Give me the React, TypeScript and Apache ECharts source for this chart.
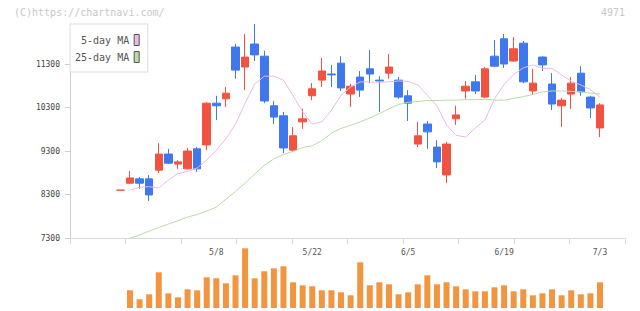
import React, { useEffect, useRef } from 'react';
import * as echarts from 'echarts';

const dates = ['4/19','4/22','4/23','4/24','4/25','4/26','4/30','5/1','5/2','5/7','5/8','5/9','5/10','5/13','5/14','5/15','5/16','5/17','5/20','5/21','5/22','5/23','5/24','5/27','5/28','5/29','5/30','5/31','6/3','6/4','6/5','6/6','6/7','6/10','6/11','6/12','6/13','6/14','6/17','6/18','6/19','6/20','6/21','6/24','6/25','6/26','6/27','6/28','7/1','7/2','7/3'];

const opens = [8400,8560,8660,8660,8860,9230,9000,8890,9350,9440,10400,10500,11690,11230,11760,11480,10340,10110,9320,9970,10570,10930,11070,11320,10610,11000,11190,10930,11090,10930,10570,9460,9920,9390,8750,10040,10680,10890,10540,11480,11880,11370,11780,10680,11460,10840,10340,10610,11090,10540,9830];
const closes = [8400,8680,8560,8290,9230,9020,9050,9300,8890,10400,10340,10630,11160,11460,11510,10450,10080,9370,9650,10040,10730,11140,11050,10750,10790,10700,11070,10910,11230,10540,10400,9650,9740,9050,9460,10130,10790,10680,11190,11250,11300,11650,10890,10860,11280,10380,10470,10860,10660,10290,10360];
const lows = [8400,8540,8430,8150,8790,9000,8890,8870,8820,9320,10010,10310,10960,10700,11370,10400,9920,9250,9280,9810,10470,10770,10770,10680,10310,10540,10860,10200,10960,10500,9990,9390,9350,8910,8560,9900,10500,10610,10520,11230,11210,11350,10860,10590,11140,10240,9850,10270,10570,10060,9620];
const highs = [8400,8840,8700,8750,9480,9350,9090,9370,9390,10420,10570,10770,11760,11990,12220,11600,10450,10200,9850,10270,10860,11440,11280,11480,10840,11140,11620,11020,11530,11000,10700,9970,9990,9550,9510,10340,10910,11050,11230,11850,11990,11920,11830,11190,11480,11090,10520,11000,11250,10570,10400];
const volumes = [null,17.7,8.7,13.7,35.7,14.7,10.7,18.7,17.7,30.7,29.7,24.7,32.7,59.7,29.7,36.7,39.7,41.7,25.7,22.7,21.7,17.7,17.7,15.7,12.7,45.7,22.7,25.7,23.7,13.7,15.7,23.7,32.7,23.7,25.7,21.7,18.7,16.7,16.7,20.7,22.7,16.7,18.7,12.7,14.7,18.7,12.7,17.7,13.7,14.7,25.7];
const ma5 = [null,8400,8470,8480,8450,8630,8780,8830,8910,9090,9320,9580,9920,10400,10840,11020,11020,10930,10570,10200,9920,9970,10240,10580,10770,10890,10890,10880,10890,10910,10900,10820,10580,10340,9900,9660,9620,9830,10010,10500,10830,11060,11210,11280,11200,11200,11050,10900,10820,10710,10540];
const ma25 = [null,7300,7370,7460,7540,7620,7700,7780,7840,7920,8010,8190,8370,8560,8770,8970,9120,9220,9290,9380,9420,9540,9710,9820,9890,9970,10060,10160,10270,10370,10420,10440,10460,10460,10470,10470,10480,10480,10490,10470,10470,10510,10550,10600,10660,10680,10680,10670,10660,10630,10610];
const yTickStep = 1000;
const labelIndices = [10, 20, 30, 40, 50];

const RED = '#f25340';
const BLUE = '#3f78ee';
const ORANGE = '#f29540';
const PINK = '#eab9ec';
const GREEN = '#b7dca8';
const AXIS = '#dadada';
const Y_AXIS = '#cfcfcf';
const MONO = 'DejaVu Sans Mono';

const X_MIN = -5.254;
const X_MAX = 52.606;

export default function App() {
  const ref = useRef<HTMLDivElement>(null);
  useEffect(() => {
    const chart = echarts.init(ref.current!, null, { renderer: 'svg' });
    const candles = dates.map((_, i) => [i, opens[i], closes[i], lows[i], highs[i]]);
    const vol = volumes.map((v, i) => [i, v]).filter((d) => d[1] != null);
    const ma5Data = ma5.map((v, i) => [i, v]).filter((d) => d[1] != null);
    const ma25Data = ma25.map((v, i) => [i, v]).filter((d) => d[1] != null);
    const tickVals = Array.from({ length: 11 }, (_, k) => X_MIN + ((X_MAX - X_MIN) * k) / 10);
    const yMin = Math.min(...lows, ...(ma25.filter((v) => v != null) as number[]));
    const yMax = Math.max(...highs);

    chart.setOption({
      animation: false,
      textStyle: { fontFamily: MONO },
      graphic: [
        { type: 'text', left: 14, top: 7, style: { text: '(C)https://chartnavi.com/', fill: '#c8c8c8', font: `10px "${MONO}"` } },
        { type: 'text', right: 15, top: 7, style: { text: '4971', fill: '#c8c8c8', font: `10px "${MONO}"` } },
      ],
      legend: {
        orient: 'vertical',
        left: 70,
        top: 24,
        align: 'right',
        icon: 'rect',
        itemWidth: 5,
        itemHeight: 11,
        itemGap: 5,
        padding: [10, 8, 9, 5],
        backgroundColor: '#fff',
        borderColor: '#dddddd',
        borderWidth: 1,
        itemStyle: { borderColor: '#555', borderWidth: 1 },
        textStyle: { fontFamily: MONO, fontSize: 10, color: '#555' },
        data: ['5-day MA', '25-day MA'],
      },
      grid: [
        { left: 70, right: 15, top: 24, height: 214 },
        { left: 70, right: 15, top: 240, height: 68 },
      ],
      xAxis: [
        {
          type: 'value', gridIndex: 0, min: X_MIN, max: X_MAX, position: 'bottom',
          splitLine: { show: false },
          axisLine: { show: true, onZero: false, lineStyle: { color: AXIS } },
          axisTick: { show: true, customValues: tickVals, length: 6, lineStyle: { color: AXIS } },
          axisLabel: { customValues: labelIndices, formatter: (v: number) => dates[Math.round(v)], fontFamily: MONO, fontSize: 8, color: '#555', margin: 10 },
        },
        { type: 'value', gridIndex: 1, min: X_MIN, max: X_MAX, show: false },
      ],
      yAxis: [
        {
          type: 'value', gridIndex: 0, min: yMin, max: yMax, interval: yTickStep, position: 'left', offset: 0,
          splitLine: { show: false },
          axisLine: { show: true, onZero: false, lineStyle: { color: Y_AXIS, width: 1 } },
          axisTick: { show: true, length: 5, lineStyle: { color: Y_AXIS } },
          axisLabel: { showMaxLabel: false, formatter: (v: number) => String(v), fontFamily: MONO, fontSize: 8, color: '#444', margin: 10 },
        },
        { type: 'value', gridIndex: 1, min: 0, max: 68, show: false },
      ],
      series: [
        {
          type: 'candlestick', xAxisIndex: 0, yAxisIndex: 0, data: candles, barWidth: 8,
          itemStyle: { color: RED, color0: BLUE, borderColor: RED, borderColor0: BLUE, borderColorDoji: RED, borderWidth: 1 },
        },
        {
          name: '5-day MA', type: 'line', xAxisIndex: 0, yAxisIndex: 0, data: ma5Data, symbol: 'none', showSymbol: false,
          lineStyle: { color: PINK, width: 1 }, itemStyle: { color: PINK },
        },
        {
          name: '25-day MA', type: 'line', xAxisIndex: 0, yAxisIndex: 0, data: ma25Data, symbol: 'none', showSymbol: false,
          lineStyle: { color: GREEN, width: 1 }, itemStyle: { color: GREEN },
        },
        {
          type: 'bar', xAxisIndex: 1, yAxisIndex: 1, data: vol, barWidth: 6, itemStyle: { color: ORANGE },
        },
      ],
    });
    return () => chart.dispose();
  }, []);
  return <div ref={ref} style={{ position: 'absolute', left: 0, top: 0, width: 640, height: 311 }} />;
}
